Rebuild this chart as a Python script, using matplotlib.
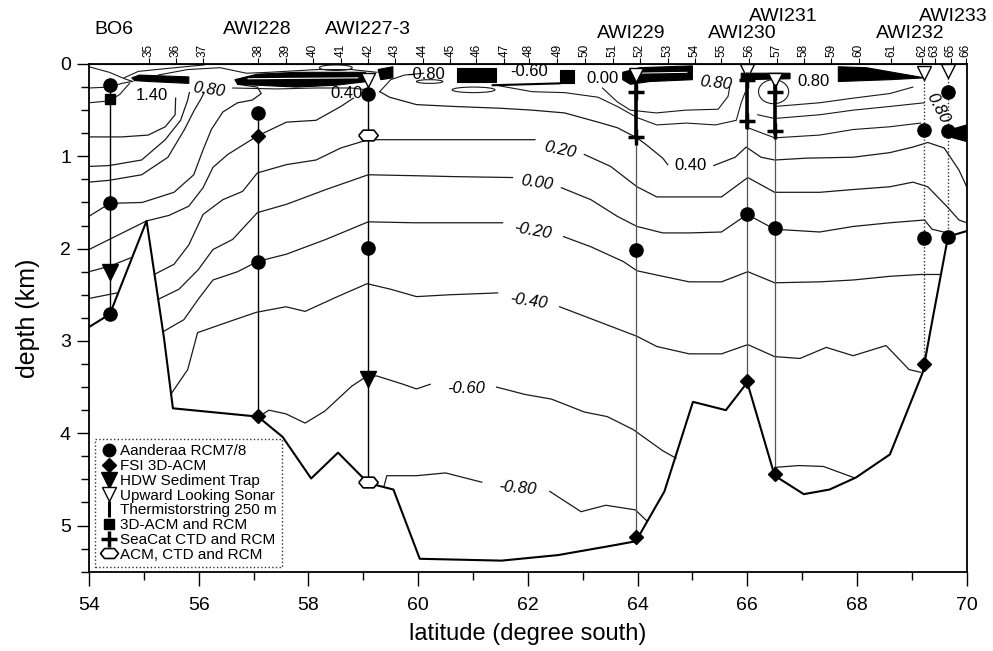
import matplotlib
matplotlib.use('Agg')
import matplotlib.pyplot as plt
from matplotlib.lines import Line2D
from matplotlib.patches import Ellipse, Polygon
from matplotlib.ticker import MultipleLocator, NullLocator
import matplotlib.transforms as mtransforms
import numpy as np

plt.rcParams['font.family'] = ['Liberation Sans', 'DejaVu Sans']

# moorings
moor_names = ['BO6', 'AWI228', 'AWI227-3', 'AWI229', 'AWI230', 'AWI231', 'AWI232', 'AWI233']
moor_lat = [54.38, 57.08, 59.09, 63.97, 66.00, 66.50, 69.23, 69.66]
moor_top = [0.23, 0.53, 0.17, 0.12, 0.08, 0.17, 0.10, 0.08]
moor_bot = [2.71, 3.81, 4.53, 5.12, 3.43, 4.44, 3.25, 1.87]
moor_kind = ['solid', 'solid', 'solid', 'grey', 'grey', 'grey', 'dotted', 'dotted']
name_lat = [54.46, 57.07, 59.09, 63.88, 65.91, 66.66, 68.98, 69.75]
name_y = [1.067, 1.067, 1.067, 1.061, 1.061, 1.093, 1.061, 1.093]

# CTD stations along the top
ctd_num = [35, 36, 37, 38, 39, 40, 41, 42, 43, 44, 45, 46, 47, 48, 49, 50,
           51, 52, 53, 54, 55, 56, 57, 58, 59, 60, 61, 62, 63, 65, 66]
ctd_lat = [55.09, 55.58, 56.07, 57.09, 57.59, 58.08, 58.59, 59.09, 59.58, 60.08,
           60.59, 61.06, 61.57, 62.02, 62.54, 63.04, 63.55, 64.04, 64.55, 65.04,
           65.53, 66.04, 66.54, 67.03, 67.53, 68.03, 68.62, 69.19, 69.42, 69.71, 69.98]

# instruments (lat, depth km)
rcm = [(54.38, 0.23), (54.38, 1.51), (54.38, 2.71), (57.08, 0.53), (57.08, 2.14),
       (59.09, 0.32), (59.09, 1.99), (63.97, 2.02), (66.00, 1.62), (66.50, 1.78),
       (69.23, 0.72), (69.23, 1.89), (69.66, 0.30), (69.66, 0.73), (69.66, 1.87)]
acm3d = [(57.08, 0.78), (57.08, 3.81), (63.97, 5.12), (66.00, 3.43), (66.50, 4.44), (69.23, 3.25)]
trap = [(54.38, 2.25), (59.09, 3.41)]
sonar = [(59.09, 0.17), (63.97, 0.12), (66.00, 0.08), (66.50, 0.17), (69.23, 0.10), (69.66, 0.08)]
therm_lat = [63.97, 66.00, 66.50]
therm_top = [0.10, 0.10, 0.17]
therm_bot = [0.79, 0.68, 0.75]
acm_rcm = [(54.38, 0.38)]
seacat = [(63.97, 0.30), (63.97, 0.79), (66.00, 0.17), (66.00, 0.62), (66.50, 0.30), (66.50, 0.73)]
acm_ctd = [(59.09, 0.77), (59.09, 4.53)]

# bottom topography
bottom_lat = [54.0, 54.38, 55.05, 55.37, 55.53, 57.08, 57.53, 58.05, 58.54, 59.09, 59.55,
              60.03, 61.52, 62.55, 63.51, 63.97, 64.49, 65.01, 65.61, 66.00, 66.50, 67.03,
              67.50, 67.98, 68.60, 69.20, 69.37, 69.66, 70.0]
bottom_dep = [2.85, 2.71, 1.70, 2.98, 3.73, 3.82, 4.04, 4.49, 4.21, 4.54, 4.61,
              5.36, 5.38, 5.32, 5.22, 5.17, 4.63, 3.66, 3.75, 3.45, 4.46, 4.66,
              4.61, 4.48, 4.23, 3.34, 2.79, 1.87, 1.81]

# isotherms (lat, depth), split where labels sit
iso_120 = [(54.0, 0.79), (54.60, 0.79), (55.08, 0.77), (55.39, 0.68), (55.57, 0.55), (55.58, 0.37)]
iso_100 = [(54.0, 1.11), (54.37, 1.10), (54.96, 1.04), (55.39, 0.82), (55.67, 0.61), (55.80, 0.39), (55.83, 0.31)]
iso_080 = [(54.0, 1.28), (54.37, 1.26), (54.96, 1.20), (55.44, 1.01), (55.74, 0.71), (55.92, 0.50),
           (56.03, 0.39), (56.10, 0.31)]
iso_060 = [(54.0, 1.65), (54.38, 1.51), (54.97, 1.50), (55.55, 1.39), (55.91, 1.20), (56.08, 0.93),
           (56.23, 0.71), (56.44, 0.52), (56.71, 0.42), (56.98, 0.39), (57.14, 0.32), (57.07, 0.25),
           (56.71, 0.22)]
iso_040_a = [(54.0, 2.01), (55.05, 1.70), (55.46, 1.64), (55.82, 1.54), (56.08, 1.34), (56.26, 1.12),
             (56.53, 0.98), (57.07, 0.78), (57.60, 0.63), (58.14, 0.61), (58.59, 0.46), (58.82, 0.37)]
iso_040_b = [(59.30, 0.30), (59.48, 0.36), (59.97, 0.44), (60.65, 0.46), (61.52, 0.48), (62.08, 0.50),
             (62.67, 0.53), (63.28, 0.63), (63.63, 0.69), (63.99, 0.80), (64.17, 0.88), (64.46, 1.02),
             (64.55, 1.09)]
iso_040_c = [(65.39, 1.10), (65.78, 1.01), (65.98, 0.90), (66.25, 1.01), (66.50, 1.04), (67.08, 1.02),
             (67.93, 1.01), (68.60, 0.96), (69.02, 0.90), (69.29, 0.85), (69.59, 0.91), (69.86, 1.15),
             (70.0, 1.33)]
iso_020_a = [(55.19, 2.28), (55.55, 2.17), (55.82, 1.96), (56.08, 1.63), (56.44, 1.47), (56.80, 1.38),
             (57.07, 1.18), (57.60, 1.09), (58.14, 1.04), (58.59, 0.91), (59.09, 0.82), (59.93, 0.82),
             (60.65, 0.82), (61.52, 0.82), (62.13, 0.82)]
iso_020_b = [(63.03, 0.98), (63.51, 1.11), (63.99, 1.33), (64.35, 1.44), (64.94, 1.44), (65.53, 1.44),
             (66.01, 1.23), (66.50, 1.39), (67.32, 1.39), (67.93, 1.36), (68.60, 1.33), (69.02, 1.28),
             (69.29, 1.33), (69.65, 1.55), (69.86, 1.69), (70.0, 1.72)]
iso_000_a = [(55.26, 2.55), (55.64, 2.44), (55.99, 2.23), (56.26, 2.01), (56.62, 1.90), (57.07, 1.61),
             (57.60, 1.52), (58.32, 1.36), (59.09, 1.20), (59.93, 1.21), (60.65, 1.22), (61.72, 1.23)]
iso_000_b = [(62.61, 1.34), (63.15, 1.47), (63.63, 1.65), (63.99, 1.76), (64.46, 1.83), (64.94, 1.83),
             (65.53, 1.82), (66.00, 1.63), (66.50, 1.79), (67.32, 1.82), (67.93, 1.76), (68.60, 1.72),
             (69.23, 1.69), (69.37, 1.79), (69.65, 1.83)]
iso_m020_a = [(55.35, 2.90), (55.73, 2.77), (55.99, 2.55), (56.26, 2.34), (56.71, 2.25), (57.07, 2.14),
              (57.60, 2.06), (58.32, 1.90), (59.09, 1.71), (59.93, 1.72), (60.65, 1.72), (61.54, 1.72)]
iso_m020_b = [(62.65, 1.87), (63.15, 1.98), (63.74, 2.14), (63.99, 2.24), (64.46, 2.30), (64.94, 2.36),
              (65.53, 2.36), (66.01, 2.25), (66.50, 2.37), (67.32, 2.36), (67.93, 2.34), (68.60, 2.30),
              (69.16, 2.28), (69.52, 2.28)]
iso_m040_a = [(55.49, 3.58), (55.80, 3.31), (55.98, 2.91), (56.51, 2.80), (57.05, 2.69), (57.59, 2.63),
              (57.94, 2.68), (58.53, 2.52), (59.07, 2.38), (59.50, 2.44), (59.97, 2.52), (60.57, 2.50),
              (61.45, 2.48)]
iso_m040_b = [(62.58, 2.63), (63.33, 2.80), (63.99, 2.95), (64.35, 3.06), (64.94, 3.14), (65.53, 3.14),
              (66.01, 3.04), (66.50, 3.17), (66.96, 3.19), (67.44, 3.07), (67.93, 3.16), (68.53, 3.05),
              (68.95, 3.31), (69.16, 3.34)]
iso_m060_a = [(57.10, 3.82), (57.28, 3.75), (57.59, 3.79), (57.94, 3.89), (58.30, 3.76), (58.79, 3.49),
              (59.07, 3.38), (59.25, 3.38), (59.73, 3.47), (59.97, 3.52), (60.22, 3.47)]
iso_m060_b = [(61.43, 3.50), (61.95, 3.58), (62.43, 3.63), (63.03, 3.77), (63.45, 3.82), (63.92, 3.96),
              (64.46, 4.19), (64.70, 4.27)]
iso_m080_a = [(59.38, 4.57), (59.43, 4.46), (59.97, 4.46), (60.50, 4.43), (61.16, 4.53)]
iso_m080_b = [(62.40, 4.63), (62.97, 4.85), (63.42, 4.78), (63.96, 4.83), (64.17, 4.95)]
iso_basin = [(66.50, 4.37), (66.94, 4.35), (67.39, 4.36), (67.94, 4.48)]
iso_west_1 = [(54.0, 2.25), (54.38, 2.19), (54.76, 2.10)]
iso_west_2 = [(54.0, 2.54), (54.51, 2.48)]

# thin near-surface contours
surf_1 = [(54.64, 0.15), (54.90, 0.08), (55.57, 0.04), (56.10, 0.01)]
surf_2 = [(54.0, 0.03), (54.37, 0.09), (54.65, 0.16), (54.80, 0.19)]
surf_3 = [(54.0, 0.26), (54.37, 0.25), (54.60, 0.21), (54.78, 0.19)]
surf_4 = [(54.0, 0.42), (54.37, 0.40), (54.56, 0.33), (54.74, 0.21)]
surf_5 = [(55.26, 0.12), (55.80, 0.06), (56.39, 0.04), (56.87, 0.10), (57.28, 0.09), (58.17, 0.06),
          (58.78, 0.06), (59.25, 0.09)]
surf_6 = [(56.62, 0.26), (57.43, 0.27), (58.14, 0.26), (58.78, 0.26), (59.07, 0.28)]
surf_7 = [(61.42, 0.23), (62.08, 0.30), (62.67, 0.31), (63.28, 0.36), (63.63, 0.46), (63.99, 0.58),
          (64.35, 0.66), (64.89, 0.64), (65.42, 0.66), (65.80, 0.61), (65.89, 0.42), (65.96, 0.31)]
surf_8 = [(63.36, 0.26), (63.63, 0.41), (63.87, 0.50), (64.34, 0.53), (64.88, 0.50), (65.47, 0.49),
          (65.65, 0.35), (65.68, 0.25)]
surf_9 = [(66.50, 0.46), (67.32, 0.42), (67.93, 0.37), (68.60, 0.32), (69.02, 0.25)]
surf_10 = [(66.19, 0.55), (66.50, 0.59), (67.32, 0.55), (67.93, 0.50), (68.60, 0.46), (69.23, 0.42)]
surf_11 = [(66.01, 0.69), (66.50, 0.80), (67.32, 0.77), (67.93, 0.71), (68.60, 0.68), (69.16, 0.64)]
surf_12 = [(59.30, 0.30), (59.50, 0.17), (59.75, 0.12), (60.10, 0.10)]

# small closed contours near the surface: centre lat, depth, width, height
loop_lat = [58.50, 60.21, 61.01, 66.48]
loop_dep = [0.04, 0.19, 0.28, 0.30]
loop_w = [0.60, 0.48, 0.78, 0.55]
loop_h = [0.06, 0.04, 0.06, 0.26]

# packed (black) cold surface layers
band_1 = [(54.78, 0.15), (54.92, 0.12), (55.82, 0.14), (55.82, 0.21), (55.10, 0.19), (54.83, 0.18)]
band_2 = [(56.66, 0.17), (57.07, 0.11), (57.78, 0.09), (59.04, 0.09), (59.07, 0.19), (58.50, 0.23),
          (57.78, 0.25), (57.07, 0.23), (56.71, 0.22)]
band_3 = [(59.27, 0.06), (59.54, 0.03), (59.54, 0.15), (59.32, 0.17)]
band_4 = [(60.70, 0.04), (61.42, 0.04), (61.42, 0.19), (60.70, 0.19)]
band_5 = [(62.58, 0.06), (62.85, 0.06), (62.85, 0.21), (62.58, 0.21)]
band_6 = [(63.73, 0.09), (64.04, 0.04), (65.00, 0.02), (65.00, 0.17), (64.22, 0.19), (63.87, 0.22),
          (63.73, 0.17)]
band_7 = [(65.89, 0.10), (66.78, 0.10), (66.78, 0.16), (65.89, 0.17)]
band_8 = [(67.66, 0.03), (68.17, 0.04), (69.23, 0.15), (68.60, 0.17), (67.66, 0.19)]
band_9 = [(69.65, 0.72), (70.0, 0.66), (70.0, 0.84), (69.75, 0.80)]
under_060 = [(61.36, 0.23), (62.58, 0.21)]

# contour labels
lab_txt = ['1.40', '0.80', '0.40', '-0.80', '-0.60', '0.00', '0.80', '0.80', '0.80',
           '0.20', '0.40', '0.00', '-0.20', '-0.40', '-0.60', '-0.80']
lab_lat = [55.14, 56.19, 58.69, 60.15, 62.02, 63.36, 65.42, 67.21, 69.47,
           62.58, 64.97, 62.17, 62.08, 62.02, 60.87, 61.81]
lab_dep = [0.34, 0.28, 0.32, 0.11, 0.08, 0.16, 0.21, 0.19, 0.48,
           0.93, 1.10, 1.29, 1.81, 2.57, 3.51, 4.59]
lab_rot = [0, -8, 0, 0, 0, 0, -6, 0, -62, -12, 0, -8, -10, -8, 0, -5]
lab_italic = [False, True, False, False, False, False, True, False, True,
              True, False, True, True, True, True, True]

fig = plt.figure(figsize=(9.93, 6.51), dpi=100)
ax = fig.add_axes([0.0896, 0.1218, 0.8839, 0.7799])
ax.set_xlim(54, 70)
ax.set_ylim(5.5, 0)

isolines = [iso_120, iso_100, iso_080, iso_060, iso_040_a, iso_040_b, iso_040_c,
            iso_020_a, iso_020_b, iso_000_a, iso_000_b, iso_m020_a, iso_m020_b,
            iso_m040_a, iso_m040_b, iso_m060_a, iso_m060_b, iso_m080_a, iso_m080_b,
            iso_basin, iso_west_1, iso_west_2]
for line in isolines:
    la, de = zip(*line)
    ax.plot(la, de, color='#1a1a1a', lw=0.9, zorder=2)

surflines = [surf_1, surf_2, surf_3, surf_4, surf_5, surf_6, surf_7, surf_8,
             surf_9, surf_10, surf_11, surf_12]
for line in surflines:
    la, de = zip(*line)
    ax.plot(la, de, color='#1a1a1a', lw=0.8, zorder=2)

for x, y, w, h in zip(loop_lat, loop_dep, loop_w, loop_h):
    ax.add_patch(Ellipse((x, y), w, h, fill=False, ec='#1a1a1a', lw=0.8, zorder=2))

for band in [band_1, band_2, band_3, band_4, band_5, band_6, band_7, band_8, band_9]:
    ax.add_patch(Polygon(band, closed=True, fc='black', ec='black', lw=0.8, zorder=2))
la, de = zip(*under_060)
ax.plot(la, de, color='black', lw=1.5, zorder=2)

# white streaks inside the dense band
ax.plot([56.9, 58.9], [0.16, 0.15], color='white', lw=0.8, zorder=2)
ax.plot([63.9, 64.9], [0.10, 0.09], color='white', lw=0.7, zorder=2)

# bottom
ax.plot(bottom_lat, bottom_dep, color='black', lw=1.5, zorder=3)

# mooring lines
for lat, t, b, kind in zip(moor_lat, moor_top, moor_bot, moor_kind):
    if kind == 'solid':
        ax.plot([lat, lat], [t, b], color='black', lw=1.0, zorder=3)
    elif kind == 'grey':
        ax.plot([lat, lat], [t, b], color='#555555', lw=0.9, zorder=3)
    else:
        ax.plot([lat, lat], [t, b], color='#333333', lw=1.0, ls=(0, (1, 1.5)), zorder=3)
for lat, t, b in zip(therm_lat, therm_top, therm_bot):
    ax.plot([lat, lat], [t, b], color='black', lw=2.6, zorder=4)

hexa = [(-1, 0), (-0.55, 0.55), (0.55, 0.55), (1, 0), (0.55, -0.55), (-0.55, -0.55), (-1, 0)]

def put(points, **kw):
    xs, ys = zip(*points)
    ax.plot(xs, ys, ls='none', zorder=5, **kw)

put(rcm, marker='o', ms=9.5, mfc='black', mec='black')
put(acm3d, marker='D', ms=7, mfc='black', mec='black')
put(trap, marker='v', ms=11, mfc='black', mec='black')
put(sonar, marker='v', ms=10, mfc='white', mec='black', mew=1.0)
put(acm_rcm, marker='s', ms=7, mfc='black', mec='black')
put(seacat, marker='+', ms=12, mec='black', mew=2.5)
put(acm_ctd, marker=hexa, ms=14, mfc='white', mec='black', mew=1.2)

# contour labels
for t, x, y, r, it in zip(lab_txt, lab_lat, lab_dep, lab_rot, lab_italic):
    ax.text(x, y, t, fontsize=12, rotation=r, ha='center', va='center',
            style='italic' if it else 'normal', zorder=6)

# mooring names
trans = mtransforms.blended_transform_factory(ax.transData, ax.transAxes)
for n, x, y in zip(moor_names, name_lat, name_y):
    ax.text(x, y, n, transform=trans, fontsize=14, ha='center', va='center', clip_on=False)

# axes
ax.xaxis.set_major_locator(MultipleLocator(2))
ax.xaxis.set_minor_locator(MultipleLocator(1))
ax.yaxis.set_major_locator(MultipleLocator(1))
ax.yaxis.set_minor_locator(MultipleLocator(0.25))
ax.tick_params(axis='x', which='major', direction='out', length=10, width=1.0, pad=8, labelsize=14, top=False)
ax.tick_params(axis='x', which='minor', direction='out', length=6, width=1.0, top=False)
ax.tick_params(axis='y', which='major', direction='out', length=9, width=1.0, pad=4, labelsize=14, right=False)
ax.tick_params(axis='y', which='minor', direction='out', length=6, width=1.0, right=False)
for sp in ax.spines.values():
    sp.set_linewidth(1.3)

top = ax.secondary_xaxis('top')
top.set_xticks(ctd_lat, labels=[str(n) for n in ctd_num])
top.xaxis.set_minor_locator(NullLocator())
top.tick_params(axis='x', direction='out', length=4, width=0.8, pad=1, labelsize=8.5, labelrotation=90)

ax.set_xlabel('latitude (degree south)', fontsize=17, labelpad=7)
ax.set_ylabel('depth (km)', fontsize=18, labelpad=14)

handles = [
    Line2D([], [], ls='none', marker='o', ms=9, mfc='black', mec='black'),
    Line2D([], [], ls='none', marker='D', ms=7, mfc='black', mec='black'),
    Line2D([], [], ls='none', marker='v', ms=11, mfc='black', mec='black'),
    Line2D([], [], ls='none', marker='v', ms=10, mfc='white', mec='black'),
    Line2D([], [], ls='none', color='black', marker='|', ms=12, mec='black', mew=2.2),
    Line2D([], [], ls='none', marker='s', ms=7, mfc='black', mec='black'),
    Line2D([], [], ls='none', color='black', marker='+', ms=11, mec='black', mew=2.5),
    Line2D([], [], ls='none', marker=hexa, ms=13, mfc='white', mec='black', mew=1.2),
]
labels = ['Aanderaa RCM7/8', 'FSI 3D-ACM', 'HDW Sediment Trap', 'Upward Looking Sonar',
          'Thermistorstring 250 m', '3D-ACM and RCM', 'SeaCat CTD and RCM', 'ACM, CTD and RCM']
leg = ax.legend(handles, labels, loc='lower left', bbox_to_anchor=(0.007, 0.009),
                fontsize=11, frameon=True, fancybox=False, borderpad=0.35,
                labelspacing=0.05, handletextpad=0.2, handlelength=1.1,
                borderaxespad=0.0)
leg.get_frame().set_edgecolor('black')
leg.get_frame().set_linestyle(':')
leg.get_frame().set_linewidth(1.0)
leg.set_zorder(7)

fig.savefig('out.png', dpi=100)
